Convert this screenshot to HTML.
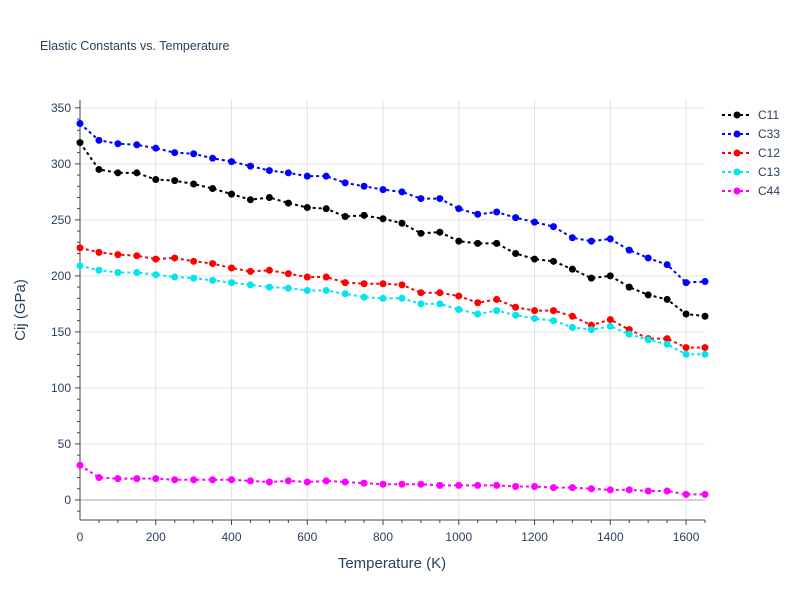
<!DOCTYPE html>
<html><head><meta charset="utf-8"><style>
body{margin:0;background:#fff;font-family:"Liberation Sans",sans-serif}
text{font-family:"Liberation Sans",sans-serif}
</style></head><body>
<svg id="chart" width="800" height="600">
<text x="40" y="50" font-size="12.5" fill="#2a3f5f">Elastic Constants vs. Temperature</text>
<g id="grid"></g><g id="axes"></g><g id="series"></g><g id="legend"></g>
<text x="392" y="568" font-size="15" fill="#2a3f5f" text-anchor="middle">Temperature (K)</text>
<text transform="translate(25,310) rotate(-90)" font-size="15" fill="#2a3f5f" text-anchor="middle">Cij (GPa)</text>
</svg>
<script>
const temps=[0,50,100,150,200,250,300,350,400,450,500,550,600,650,700,750,800,850,900,950,1000,1050,1100,1150,1200,1250,1300,1350,1400,1450,1500,1550,1600,1650];
const c11=[319,295,292,292,286,285,282,278,273,268,270,265,261,260,253,254,251,247,238,239,231,229,229,220,215,213,206,198,200,190,183,179,166,164];
const c33=[336,321,318,317,314,310,309,305,302,298,294,292,289,289,283,280,277,275,269,269,260,255,257,252,248,244,234,231,233,223,216,210,194,195];
const c12=[225,221,219,218,215,216,213,211,207,204,205,202,199,199,194,193,193,192,185,185,182,176,179,172,169,169,164,156,161,152,144,144,136,136];
const c13=[209,205,203,203,201,199,198,196,194,192,190,189,187,187,184,181,180,180,175,175,170,166,169,165,162,160,154,152,155,148,143,139,130,130];
const c44=[31,20,19,19,19,18,18,18,18,17,16,17,16,17,16,15,14,14,14,13,13,13,13,12,12,11,11,10,9,9,8,8,5,5];
const seriesNames=["C11","C33","C12","C13","C44"];
const seriesColors=["#000000","#0000ff","#ff0000","#00e5ee","#ff00ff"];
const xTicks=[0,200,400,600,800,1000,1200,1400,1600];
const yTicks=[0,50,100,150,200,250,300,350];
const L=80,R=705,T=100,B=520,X0=0,X1=1650,Y0=-17.9,Y1=357;
const sx=v=>L+(v-X0)/(X1-X0)*(R-L);
const sy=v=>B-(v-Y0)/(Y1-Y0)*(B-T);
const NS="http://www.w3.org/2000/svg";
function mk(tag,attrs,parent){const e=document.createElementNS(NS,tag);for(const k in attrs)e.setAttribute(k,attrs[k]);parent.appendChild(e);return e;}
const grid=document.getElementById('grid'),axes=document.getElementById('axes'),ser=document.getElementById('series'),leg=document.getElementById('legend');
xTicks.forEach(t=>{const x=sx(t);
 const l=mk('line',{x1:x,x2:x,y1:T,y2:B,stroke:t===0?'#444':'#e1e1e1','stroke-width':1},grid);
 
 
 const tx=mk('text',{x:x,y:B+21,'font-size':12,fill:'#2a3f5f','text-anchor':'middle'},axes);tx.textContent=t;
 
 
});
for(let v=-10;v<=350;v+=10){const y=sy(v);const m=mk('line',{x1:L-(v%50===0?5:3),x2:L,y1:y,y2:y,stroke:'#444'},axes);
 
 }
for(let v=50;v<=1650;v+=50){const x=sx(v);const m=mk('line',{x1:x,x2:x,y1:B,y2:B+(v%200===0?5:3),stroke:'#444'},axes);
 
 }
yTicks.forEach(t=>{const y=sy(t);
 const l=mk('line',{x1:L,x2:R,y1:y,y2:y,stroke:t===0?'#d4d4d4':'#e1e1e1','stroke-width':t===0?2:1},grid);
 
 
 const tx=mk('text',{x:L-9,y:y+4,'font-size':12,fill:'#2a3f5f','text-anchor':'end'},axes);tx.textContent=t;
 
 
});
const ax=mk('line',{x1:L,x2:L,y1:T,y2:B,stroke:'#444'},axes);


const bx=mk('line',{x1:L,x2:R,y1:B,y2:B,stroke:'#444'},axes);


[c11,c33,c12,c13,c44].forEach((vals,i)=>{
 const g=mk('g',{},ser);
 
 
 const pts=vals.map((v,j)=>sx(temps[j])+','+sy(v)).join(' ');
 const pl=mk('polyline',{points:pts,fill:'none',stroke:seriesColors[i],'stroke-width':2,'stroke-dasharray':'3,3'},g);
 
 
 vals.forEach((v,j)=>{const c=mk('circle',{cx:sx(temps[j]),cy:sy(v),r:3.5,fill:seriesColors[i]},g);
  
  });
 const ly=115+i*19;
 const lg=mk('g',{},leg);
 
 
 mk('line',{x1:722,x2:752,y1:ly,y2:ly,stroke:seriesColors[i],'stroke-width':2,'stroke-dasharray':'3,3'},lg);
 mk('circle',{cx:737,cy:ly,r:3.5,fill:seriesColors[i]},lg);
 const t=mk('text',{x:758,y:ly+4,'font-size':12,fill:'#2a3f5f'},lg);t.textContent=seriesNames[i];
});
</script>
</body></html>
